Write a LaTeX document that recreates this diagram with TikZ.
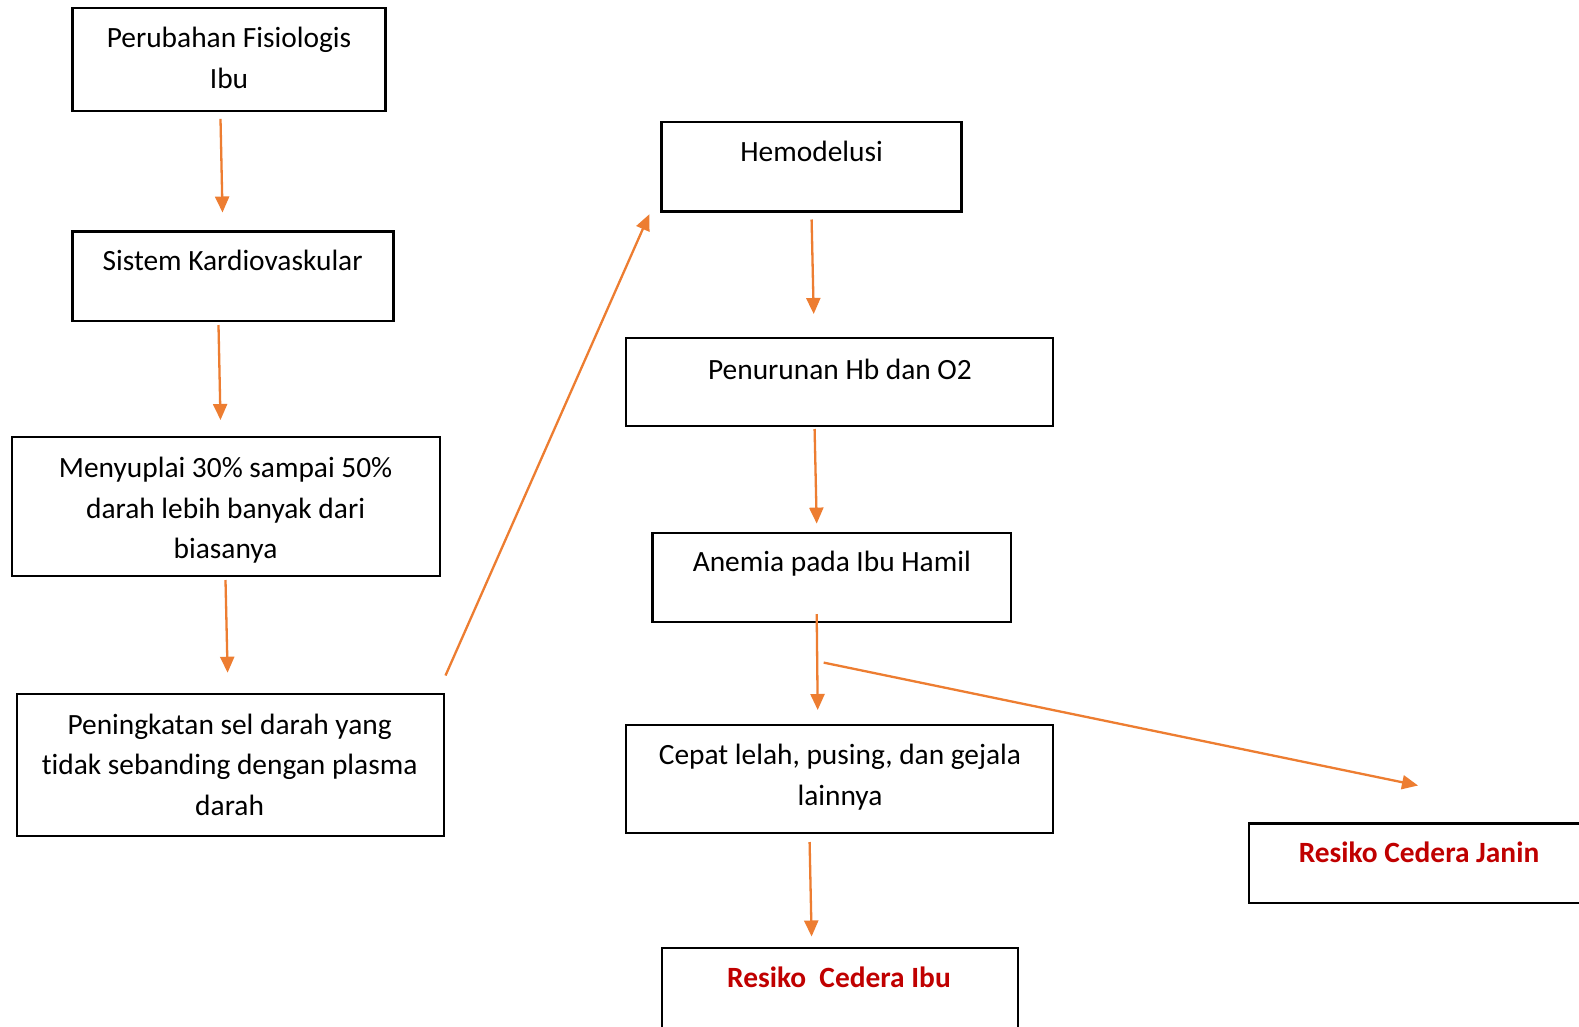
\documentclass[tikz,border=0pt]{standalone}
\usepackage{fontspec}
\setmainfont{Carlito}[Ligatures=NoCommon]
\usetikzlibrary{fit,arrows.meta}
\definecolor{arrc}{HTML}{ED7D31}
\definecolor{redt}{HTML}{C00000}
\begin{document}
\begin{tikzpicture}[x=1pt,y=-1pt,
  box/.style={draw=black,line width=2.5pt,inner sep=0pt,rectangle},
  txt/.style={font=\fontsize{29.4}{40.5}\selectfont,align=center,inner sep=0pt,anchor=base},
  redtxt/.style={txt,font=\fontsize{29.4}{40.5}\selectfont\bfseries,text=redt},
  arr/.style={draw=arrc,line width=2.3pt,-{Triangle[length=16pt,width=14pt]}}]
\fill[white] (0,0) rectangle (1579,1026);
\clip (0,0) rectangle (1579,1026);
% boxes
\node[box,fit={(72.5,8) (385.7,110.8)}] (b1) {};
\node[box,fit={(72.5,231.6) (393.7,321.2)}] (b2) {};
\node[box,fit={(12,437) (440,576)}] (b3) {};
\node[box,fit={(17,694) (444,836)}] (b4) {};
\node[box,fit={(661.6,121.8) (961.7,211.5)}] (b5) {};
\node[box,fit={(626,338) (1053,426)}] (b6) {};
\node[box,fit={(652.5,533) (1011,622)}] (b7) {};
\node[box,fit={(626,725) (1053,833)}] (b8) {};
\node[box,fit={(662,948) (1018,1060)}] (b9) {};
\node[box,fit={(1249,823.5) (1620,903)}] (b10) {};
% texts (anchor = baseline of last line)
\node[txt] (t1) at (229,88) {Perubahan Fisiologis\\Ibu};
\node[txt] (t2) at (232.6,270.3) {Sistem Kardiovaskular};
\node[txt] (t3) at (225.6,558.5) {Menyuplai 30\% sampai 50\%\\darah lebih banyak dari\\biasanya};
\node[txt] (t4) at (229.6,815) {Peningkatan sel darah yang\\t\kern0pt idak sebanding dengan plasma\\darah};
\node[txt] (t5) at (811.6,161.5) {Hemodelusi};
\node[txt] (t6) at (840,379) {Penurunan Hb dan O2};
\node[txt] (t7) at (831.8,571.5) {Anemia pada Ibu Hamil};
\node[txt] (t8) at (840,805) {Cepat lelah, pusing, dan gejala\\lainnya};
\node[redtxt] (t9) at (839,987.3) {Resiko\ \ Cedera Ibu};
\node[redtxt] (t10) at (1419,862.5) {Resiko Cedera Janin};
% connector end points
\coordinate (a1s) at (220.5,118.8); \coordinate (a1e) at (222.5,212.5);
\coordinate (a2s) at (218.5,325);   \coordinate (a2e) at (220.5,420);
\coordinate (a3s) at (225.5,580);   \coordinate (a3e) at (227.6,672.7);
\coordinate (a4s) at (445.5,675.5); \coordinate (a4e) at (649.3,214.3);
\coordinate (a5s) at (811.6,219.5); \coordinate (a5e) at (813.7,314);
\coordinate (a6s) at (814.6,429);   \coordinate (a6e) at (816.7,523.6);
\coordinate (a7s) at (816.7,614);   \coordinate (a7e) at (817.7,710);
\coordinate (a8s) at (823.7,662.6); \coordinate (a8e) at (1418,785.5);
\coordinate (a9s) at (809.6,842);   \coordinate (a9e) at (811.6,936.5);
\draw[arr] (a1s) -- (a1e);
\draw[arr] (a2s) -- (a2e);
\draw[arr] (a3s) -- (a3e);
\draw[arr] (a4s) -- (a4e);
\draw[arr] (a5s) -- (a5e);
\draw[arr] (a6s) -- (a6e);
\draw[arr] (a7s) -- (a7e);
\draw[arr] (a8s) -- (a8e);
\draw[arr] (a9s) -- (a9e);
\end{tikzpicture}
\end{document}
